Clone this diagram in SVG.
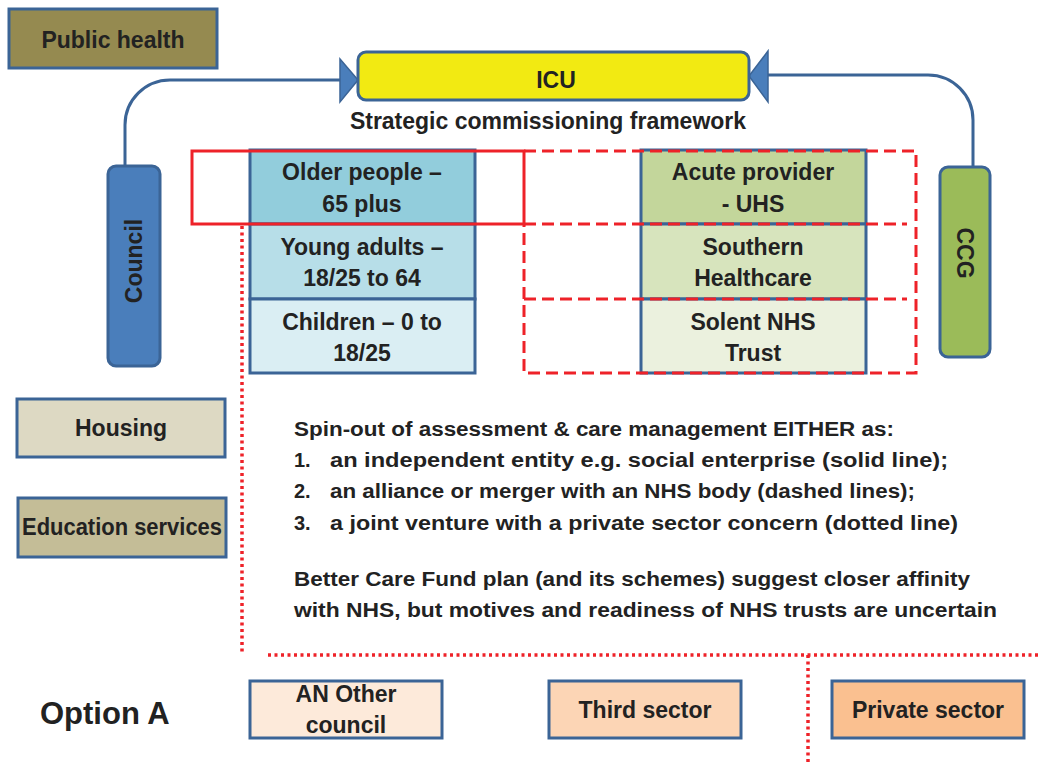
<svg xmlns="http://www.w3.org/2000/svg" width="1039" height="762" viewBox="0 0 1039 762">
<style>
text{font-family:"Liberation Sans",Arial,sans-serif;font-weight:bold;fill:#222;}
.n{font-size:23px;text-anchor:middle;}
.b{stroke:#3b6496;stroke-width:3;}
.t{font-size:20px;}
.conn{fill:none;stroke:#3b6496;stroke-width:3;}
.arr{fill:#4a7ebb;stroke:#3b6496;stroke-width:1.5;}
.solid{fill:none;stroke:#ee2229;stroke-width:3;}
.dash{fill:none;stroke:#ee2229;stroke-width:3;stroke-dasharray:12 6;}
.dot{fill:none;stroke:#ee2229;stroke-width:3.5;stroke-dasharray:3 3.5;}
</style>
<rect width="1039" height="762" fill="#fff"/>

<g id="connectors">
<path class="conn" d="M125 166 V125 A45 45 0 0 1 170 80 H342"/>
<polygon class="arr" points="340,59 358,80 340,102"/>
<path class="conn" d="M973 167 V120 A45 45 0 0 0 928 75 H768"/>
<polygon class="arr" points="768,51 749,76 768,102"/>
</g>

<g id="public-health">
<rect class="b" x="9" y="9" width="208" height="59" fill="#958a50"/>
<text class="n" x="113" y="48">Public health</text>
</g>

<g id="icu">
<rect class="b" x="358" y="52" width="391" height="48" rx="8" fill="#f2ea12"/>
<text class="n" x="556" y="88">ICU</text>
</g>
<text class="n" x="548" y="129">Strategic commissioning framework</text>

<g id="council">
<rect class="b" x="108" y="166" width="52" height="200" rx="8" fill="#4a7ebb"/>
<text class="n" transform="translate(142,261) rotate(-90)">Council</text>
</g>

<g id="ccg">
<rect class="b" x="940" y="167" width="50" height="190" rx="8" fill="#9bbb59"/>
<text class="n" transform="translate(957,253) rotate(90)">CCG</text>
</g>

<g id="older-people">
<rect class="b" x="250" y="150" width="225" height="74" fill="#92cddc"/>
<text class="n" x="362" y="180">Older people –</text>
<text class="n" x="362" y="212">65 plus</text>
</g>
<g id="young-adults">
<rect class="b" x="250" y="224" width="225" height="75" fill="#b7dee8"/>
<text class="n" x="362" y="255">Young adults –</text>
<text class="n" x="362" y="286">18/25 to 64</text>
</g>
<g id="children">
<rect class="b" x="250" y="299" width="225" height="74" fill="#daeef3"/>
<text class="n" x="362" y="330">Children – 0 to</text>
<text class="n" x="362" y="361">18/25</text>
</g>

<g id="acute-provider">
<rect class="b" x="641" y="150" width="225" height="74" fill="#c3d69b"/>
<text class="n" x="753" y="180">Acute provider</text>
<text class="n" x="753" y="212">- UHS</text>
</g>
<g id="southern-healthcare">
<rect class="b" x="641" y="224" width="225" height="75" fill="#d7e4bd"/>
<text class="n" x="753" y="255">Southern</text>
<text class="n" x="753" y="286">Healthcare</text>
</g>
<g id="solent">
<rect class="b" x="641" y="299" width="225" height="74" fill="#ebf1de"/>
<text class="n" x="753" y="330">Solent NHS</text>
<text class="n" x="753" y="361">Trust</text>
</g>

<g id="housing">
<rect class="b" x="17" y="399" width="208" height="58" fill="#ddd9c3"/>
<text class="n" x="121" y="436">Housing</text>
</g>
<g id="education">
<rect class="b" x="18" y="498" width="208" height="59" fill="#c4bd97"/>
<text class="n" x="122" y="535" textLength="200" lengthAdjust="spacingAndGlyphs">Education services</text>
</g>

<g id="an-other-council">
<rect class="b" x="250" y="681" width="192" height="57" fill="#fdeada"/>
<text class="n" x="346" y="702">AN Other</text>
<text class="n" x="346" y="733">council</text>
</g>
<g id="third-sector">
<rect class="b" x="549" y="681" width="192" height="57" fill="#fcd5b5"/>
<text class="n" x="645" y="718">Third sector</text>
</g>
<g id="private-sector">
<rect class="b" x="832" y="681" width="192" height="57" fill="#fac090"/>
<text class="n" x="928" y="718">Private sector</text>
</g>

<g id="boundaries">
<rect class="solid" x="192" y="151" width="332" height="73"/>
<path class="dash" d="M524 151 H916 V373 H524 V224"/>
<path class="dash" d="M524 224 H907 M524 299 H907"/>
<path class="dot" d="M242 226 V655"/>
<path class="dot" d="M268 655 H1039"/>
<path class="dot" d="M808 655 V762"/>
</g>

<g id="notes">
<text class="t" x="294" y="436" textLength="600" lengthAdjust="spacingAndGlyphs">Spin-out of assessment &amp; care management EITHER as:</text>
<text class="t" x="294" y="467">1.</text>
<text class="t" x="330" y="467" textLength="618" lengthAdjust="spacingAndGlyphs">an independent entity e.g. social enterprise (solid line);</text>
<text class="t" x="294" y="498">2.</text>
<text class="t" x="330" y="498" textLength="585" lengthAdjust="spacingAndGlyphs">an alliance or merger with an NHS body (dashed lines);</text>
<text class="t" x="294" y="530">3.</text>
<text class="t" x="330" y="530" textLength="628" lengthAdjust="spacingAndGlyphs">a joint venture with a private sector concern (dotted line)</text>
<text class="t" x="294" y="586" textLength="676" lengthAdjust="spacingAndGlyphs">Better Care Fund plan (and its schemes) suggest closer affinity</text>
<text class="t" x="294" y="617" textLength="703" lengthAdjust="spacingAndGlyphs">with NHS, but motives and readiness of NHS trusts are uncertain</text>
</g>

<text x="40" y="724" style="font-size:31px">Option A</text>
</svg>
